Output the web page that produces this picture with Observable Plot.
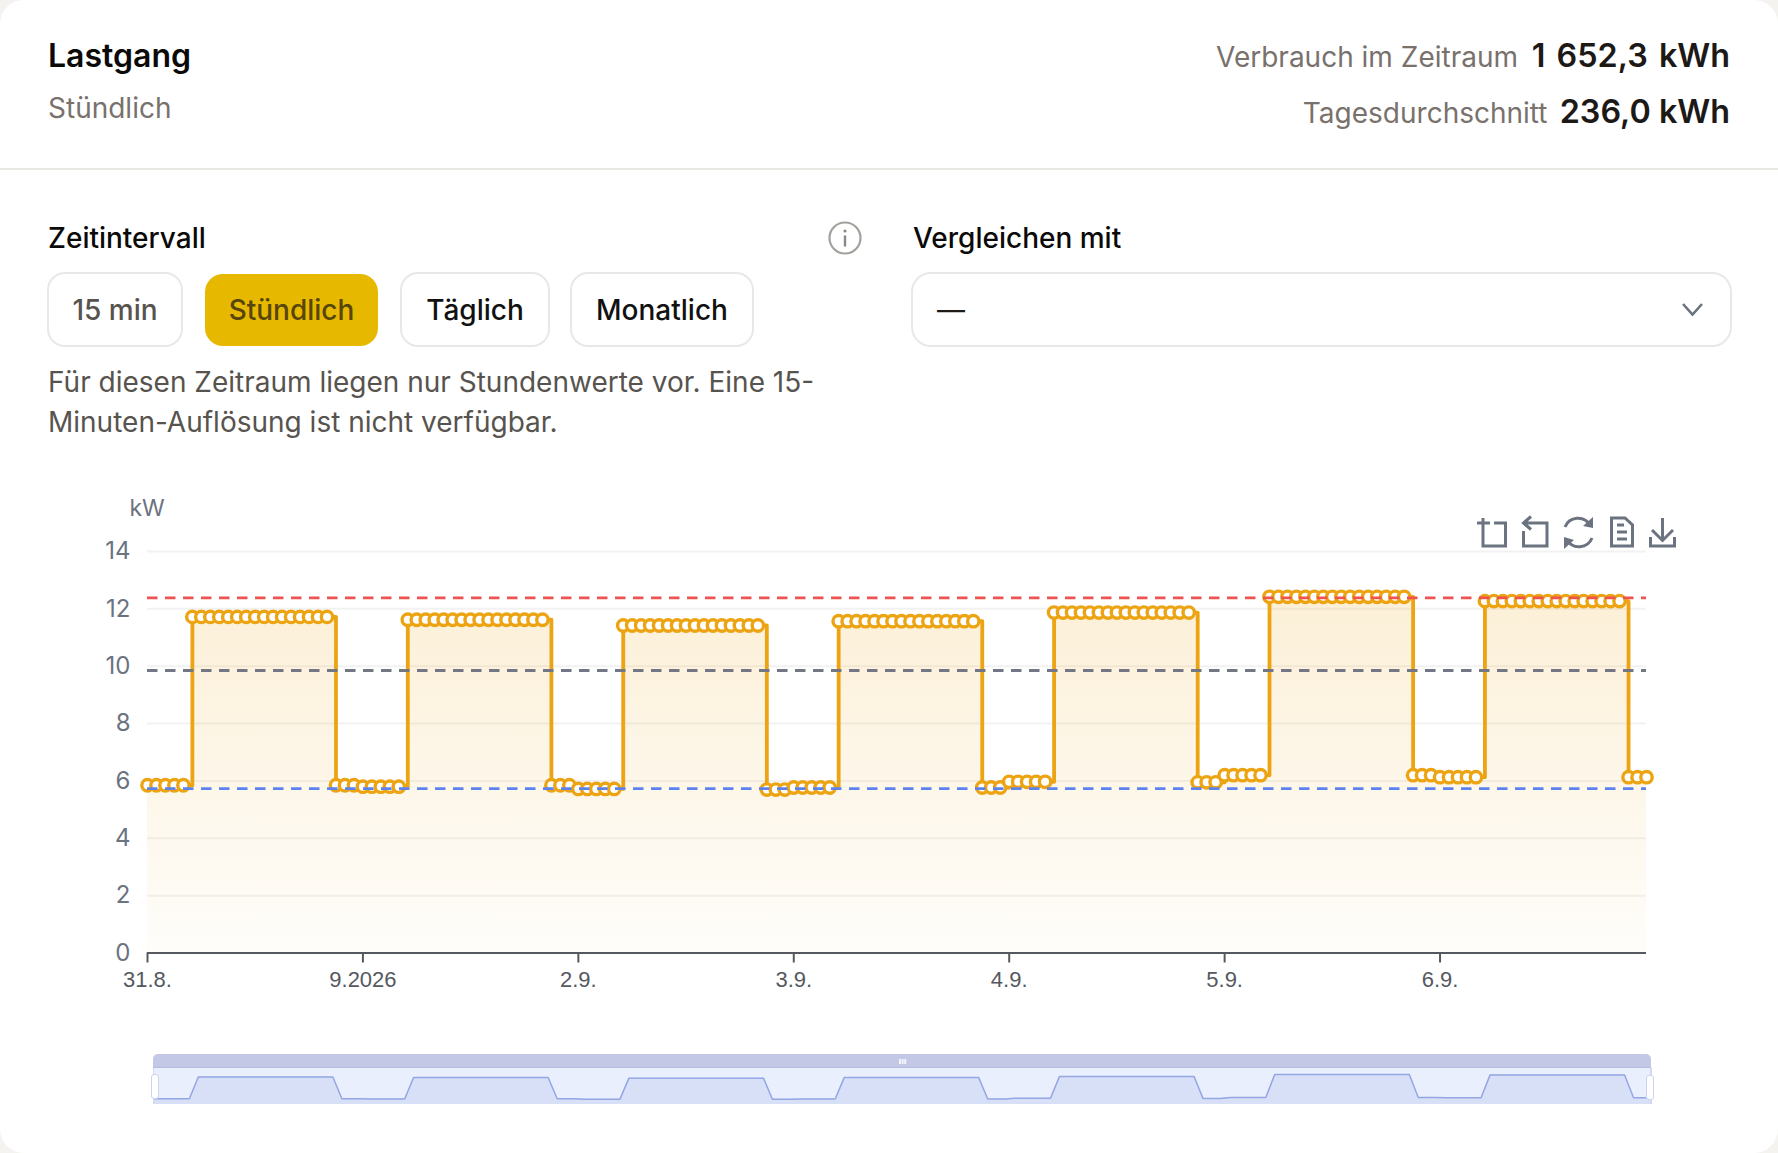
<!DOCTYPE html>
<html lang="de">
<head>
<meta charset="utf-8">
<script src="https://cdn.jsdelivr.net/npm/d3@7"></script>
<script src="https://cdn.jsdelivr.net/npm/@observablehq/plot@0.6"></script>
<style>
html,body{margin:0;padding:0;background:#f4f3f0;width:1778px;height:1153px;overflow:hidden;font-family:Inter,sans-serif}
#card{position:absolute;left:0;top:0;width:1778px;height:1153px;border-radius:24px;background:#fff;overflow:hidden}
.t{position:absolute;white-space:nowrap;transform:translateY(-50%);line-height:1}
.r{transform:translate(-100%,-50%)}
.btn{position:absolute;box-sizing:border-box;border:2px solid #e8e8e8;border-radius:18px;background:#fff;display:flex;align-items:center;justify-content:center;font-size:28px;font-weight:500;color:#111}
.abs{position:absolute}
</style>
</head>
<body>
<div id="card">
  <div class="t" style="left:48px;top:56px;font-size:32px;font-weight:600;color:#0c0a09">Lastgang</div>
  <div class="t" style="left:48px;top:108px;font-size:28px;color:#78716c">Stündlich</div>
  <div class="t r" style="left:1518px;top:57px;font-size:28px;color:#78716c">Verbrauch im Zeitraum</div>
  <div class="t r" style="left:1730px;top:56px;font-size:32.3px;font-weight:600;color:#1c1917;word-spacing:3px">1 652,3 kWh</div>
  <div class="t r" style="left:1547.5px;top:113px;font-size:28px;color:#78716c">Tagesdurchschnitt</div>
  <div class="t r" style="left:1730px;top:112px;font-size:32.3px;font-weight:600;color:#1c1917">236,0 kWh</div>
  <div class="abs" style="left:0;top:168px;width:100%;height:2px;background:#e9e8e4"></div>

  <div class="t" style="left:48px;top:238px;font-size:28px;font-weight:500;color:#0c0a09">Zeitintervall</div>
  <div class="t" style="left:913px;top:238px;font-size:28px;font-weight:500;color:#0c0a09">Vergleichen mit</div>

  <div class="btn" style="left:47px;top:272px;width:136px;height:75px;color:#57534e">15 min</div>
  <div class="btn" style="left:205px;top:274px;width:173px;height:72px;background:#e6b800;border:none;color:#57450a">Stündlich</div>
  <div class="btn" style="left:400px;top:272px;width:150px;height:75px">Täglich</div>
  <div class="btn" style="left:570px;top:272px;width:184px;height:75px">Monatlich</div>

  <div class="t" style="left:48px;top:382px;font-size:28px;color:#57534e">Für diesen Zeitraum liegen nur Stundenwerte vor. Eine 15-</div>
  <div class="t" style="left:48px;top:422px;font-size:28px;color:#57534e">Minuten-Auflösung ist nicht verfügbar.</div>

  <div class="btn" style="left:911px;top:272px;width:821px;height:75px;border-radius:20px;justify-content:flex-start;padding-left:24px;font-weight:400;color:#1c1917">—</div>

  <div id="main" class="abs" style="left:0;top:480px"></div>

  <svg class="abs" style="left:0;top:0;pointer-events:none" width="1778" height="1153" fill="none">
    <circle cx="845" cy="238" r="15.5" stroke="#a3a19c" stroke-width="2.2"/>
    <path d="M845 236.5v9" stroke="#8b8985" stroke-width="2.4" stroke-linecap="round"/>
    <circle cx="845" cy="231" r="1.6" fill="#8b8985"/>
    <path d="M1683 304l9.5 10.5 9.5-10.5" stroke="#6b7280" stroke-width="2.6"/>
    <g stroke="#6b7280" stroke-width="3">
      <path d="M1477 523H1490M1494 523H1505.5V546H1483V518"/>
      <path d="M1531 516.5L1523.5 523L1531 529.5M1524 523H1547V546H1523.5V531"/>
      <path d="M1565 527A14 14 0 0 1 1590 525M1592 538A14 14 0 0 1 1567 540"/>
      <path d="M1611.5 518H1625L1632.5 525V546H1611.5ZM1617 525H1624M1617 532H1627M1617 539H1627"/>
      <path d="M1662.5 518V540M1652 530L1662.5 540.5L1673 530M1650.5 537V546H1674.5V537"/>
    </g>
    <path d="M1593 517L1593 528L1583 526Z" fill="#6b7280"/>
    <path d="M1564 549L1564 537L1574 540Z" fill="#6b7280"/>
  </svg>

  <div class="abs" style="left:153px;top:1054px;width:1498px;height:14px;background:#c3c8e6;border-radius:5px 5px 0 0;border-bottom:1px solid #b6bcdf;box-sizing:border-box"></div>
  <div class="abs" style="left:899px;top:1059px;width:1.6px;height:5px;background:#f2f3fb;box-shadow:2.6px 0 0 #f2f3fb,5.2px 0 0 #f2f3fb"></div>
  <div id="mini" class="abs" style="left:153px;top:1068px"></div>
  <div class="abs" style="left:152.5px;top:1068px;width:1.5px;height:36px;background:#d3daf0"></div>
  <div class="abs" style="left:1650px;top:1068px;width:1.5px;height:36px;background:#d3daf0"></div>
  <div class="abs" style="left:150.5px;top:1074px;width:8px;height:25px;box-sizing:border-box;background:#fff;border:1.5px solid #ccd4ee;border-radius:3px"></div>
  <div class="abs" style="left:1646px;top:1075px;width:8px;height:25px;box-sizing:border-box;background:#fff;border:1.5px solid #ccd4ee;border-radius:3px"></div>
</div>
<script>
// Stündliche Lastwerte in kW
const loadKw = [
  5.85,5.85,5.85,5.85,5.85,
  11.72,11.72,11.72,11.72,11.72,11.72,11.72,11.72,11.72,11.72,11.72,11.72,11.72,11.72,11.72,11.72,
  5.85,5.85,5.85,5.8,5.8,5.8,5.8,5.8,
  11.62,11.62,11.62,11.62,11.62,11.62,11.62,11.62,11.62,11.62,11.62,11.62,11.62,11.62,11.62,11.62,
  5.85,5.85,5.85,5.72,5.72,5.72,5.72,5.72,
  11.42,11.42,11.42,11.42,11.42,11.42,11.42,11.42,11.42,11.42,11.42,11.42,11.42,11.42,11.42,11.42,
  5.7,5.7,5.7,5.77,5.77,5.77,5.77,5.77,
  11.57,11.57,11.57,11.57,11.57,11.57,11.57,11.57,11.57,11.57,11.57,11.57,11.57,11.57,11.57,11.57,
  5.77,5.77,5.77,5.97,5.97,5.97,5.97,5.97,
  11.87,11.87,11.87,11.87,11.87,11.87,11.87,11.87,11.87,11.87,11.87,11.87,11.87,11.87,11.87,11.87,
  5.95,5.95,5.95,6.2,6.2,6.2,6.2,6.2,
  12.42,12.42,12.42,12.42,12.42,12.42,12.42,12.42,12.42,12.42,12.42,12.42,12.42,12.42,12.42,12.42,
  6.2,6.2,6.2,6.13,6.13,6.13,6.13,6.13,
  12.27,12.27,12.27,12.27,12.27,12.27,12.27,12.27,12.27,12.27,12.27,12.27,12.27,12.27,12.27,12.27,
  6.13,6.13,6.13
];
const dayTicks = [0,24,48,72,96,120,144];
const dayLabels = ["31.8.","9.2026","2.9.","3.9.","4.9.","5.9.","6.9."];
const yTicks = [0,2,4,6,8,10,12,14];
const gridTicks = [2,4,6,8,10,12,14];
const refMax = 12.38, refAvg = 9.85, refMin = 5.73;

const hours = loadKw.map((_, i) => i);
const rows = hours.map(h => ({h, kw: loadKw[h]}));
const orange = "#eca413";

const defs = () => d3.create("svg:defs").html(
  `<linearGradient id="lg" x1="0" y1="0" x2="0" y2="1">
     <stop offset="0" stop-color="${orange}" stop-opacity="0.17"/>
     <stop offset="1" stop-color="${orange}" stop-opacity="0.02"/>
   </linearGradient>`).node();

const main = Plot.plot({
  width: 1778, height: 530,
  marginLeft: 147, marginRight: 132, marginTop: 71, marginBottom: 57.5,
  style: {fontFamily: "Inter, sans-serif", overflow: "visible", background: "transparent"},
  x: {type: "linear", domain: [0, 167], label: null},
  y: {domain: [0, 14], label: null},
  marks: [
    defs,
    Plot.ruleY(gridTicks, {stroke: "#f2f2f2", strokeWidth: 2}),
    Plot.areaY(rows, {x: "h", y: "kw", curve: "step-after", fill: "url(#lg)"}),
    Plot.line(rows, {x: "h", y: "kw", curve: "step-after", stroke: orange, strokeWidth: 3.8}),
    Plot.dot(rows, {x: "h", y: "kw", r: 5.7, fill: "#fff", stroke: orange, strokeWidth: 3.4}),
    Plot.ruleY([refMax], {stroke: "#ef5350", strokeWidth: 2.8, strokeDasharray: "10.5,7.5"}),
    Plot.ruleY([refAvg], {stroke: "#737784", strokeWidth: 2.8, strokeDasharray: "10.5,7.5"}),
    Plot.ruleY([refMin], {stroke: "#5b82ef", strokeWidth: 2.8, strokeDasharray: "10.5,7.5"}),
    Plot.ruleY([0], {stroke: "#55595f", strokeWidth: 2}),
    Plot.axisY({ticks: yTicks, tickSize: 0, tickPadding: 17, fontSize: 24, fill: "#6b7280", label: null, tickFormat: d3.format("d"), fontVariant: "normal"}),
    Plot.axisX({ticks: dayTicks, tickSize: 10, tickPadding: 8, fontSize: 22, fontFamily: "Liberation Sans", stroke: "#55595f", fill: "#55595f", strokeWidth: 2, label: null, tickFormat: (d) => dayLabels[dayTicks.indexOf(d)], fontVariant: "normal"}),
    Plot.text(["kW"], {frameAnchor: "top-left", dx: -18, dy: -43, lineAnchor: "middle", textAnchor: "start", fontSize: 23, fill: "#6b7280"})
  ]
});
document.getElementById("main").append(main);

const mini = Plot.plot({
  width: 1498, height: 36,
  marginLeft: 0, marginRight: 0, marginTop: 0, marginBottom: 0,
  style: {background: "#e9effd", overflow: "hidden"},
  x: {type: "linear", domain: [0, 167], axis: null},
  y: {domain: [4.3, 14.03], axis: null},
  marks: [
    Plot.areaY(rows, {x: "h", y1: 4.3, y2: "kw", fill: "#d8e0f8"}),
    Plot.line(rows, {x: "h", y: "kw", stroke: "#94a6e4", strokeWidth: 1.5})
  ]
});
document.getElementById("mini").append(mini);
</script>
</body>
</html>
